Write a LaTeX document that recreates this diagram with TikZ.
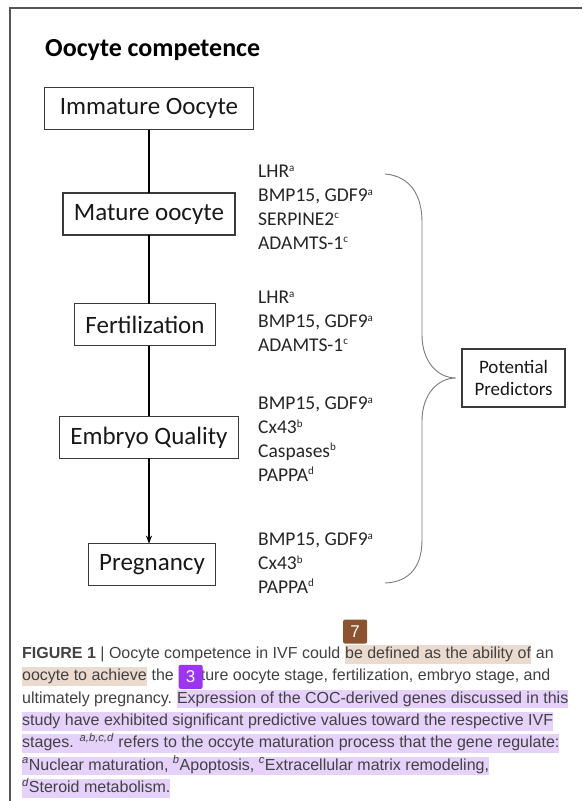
\documentclass[tikz,border=0pt]{standalone}
\usepackage{fontspec}
\setmainfont{Carlito}
\newfontfamily\capfont{Liberation Sans}
\usetikzlibrary{arrows.meta,positioning}
\definecolor{framegray}{HTML}{555555}
\definecolor{boxgray}{HTML}{3A3A3A}
\definecolor{bracegray}{HTML}{7A7A7A}
\definecolor{capgray}{HTML}{424242}
\definecolor{tanmark}{HTML}{EBDACE}
\definecolor{lilacmark}{HTML}{E6D1FA}
\definecolor{badgebrown}{HTML}{8C5331}
\definecolor{badgepurple}{HTML}{9C34F2}
\newcommand{\gsup}[1]{\raisebox{6.5pt}{\fontsize{11}{11}\selectfont #1}}
\tikzset{
  stage/.style={draw=boxgray, line width=1.2pt, minimum height=42pt, inner xsep=11pt, outer sep=0pt, font=\fontsize{25}{30}\selectfont, text=black!90},
  genes/.style={anchor=north west, inner sep=0pt, align=left, font=\fontsize{19.5}{23.8}\selectfont, text=black!85},
  link/.style={line width=1.5pt},
  brace/.style={draw=bracegray, line width=0.9pt},
  captxt/.style={anchor=base west, inner xsep=0pt, inner ysep=0.5pt, text height=13pt, text depth=4.5pt, text=capgray, font=\capfont\fontsize{16}{20}\selectfont},
  badge/.style={inner sep=0pt, minimum size=24pt, rounded corners=2pt, text=white, font=\capfont\fontsize{17}{20}\selectfont},
  >={Stealth[length=8pt,width=6pt]}
}
\begin{document}
\begin{tikzpicture}[x=1pt,y=-1pt]
\useasboundingbox (0,0) rectangle (582,801);
\fill[white] (0,0) rectangle (582,801);
\draw[framegray, line width=1.6pt] (582,8) -- (10,8) -- (10,801);

\node[anchor=base west, inner sep=0pt, font=\bfseries\fontsize{26}{31}\selectfont] (title) at (45,56) {Oocyte competence};

% IVF stages
\matrix[ampersand replacement=\&, row sep=62pt, anchor=north, inner sep=0pt] (steps) at (149,87) {
\node[stage, inner xsep=15pt] (imm) {Immature Oocyte}; \\
\node[stage] (mat) {Mature oocyte}; \\[5.5pt]
\node[stage, xshift=-4pt] (fert) {Fertilization}; \\[7.5pt]
\node[stage] (emb) {Embryo Quality}; \\[22pt]
\node[stage, xshift=3pt] (preg) {Pregnancy}; \\
};
\draw[link] (imm) -- (mat);
\draw[link] (mat) -- (mat |- fert.north);
\draw[link] (emb |- fert.south) -- (emb);
\draw[link,->] (emb) -- (emb |- preg.north);

% genes per stage
\node[genes] (g1) at (258,165) {LHR\gsup{a}\\BMP15, GDF9\gsup{a}\\SERPINE2\gsup{c}\\ADAMTS-1\gsup{c}};
\node[genes] (g2) at (258,291) {LHR\gsup{a}\\BMP15, GDF9\gsup{a}\\ADAMTS-1\gsup{c}};
\node[genes] (g3) at (258,397) {BMP15, GDF9\gsup{a}\\Cx43\gsup{b}\\Caspases\gsup{b}\\PAPPA\gsup{d}};
\node[genes] (g4) at (258,533) {BMP15, GDF9\gsup{a}\\Cx43\gsup{b}\\PAPPA\gsup{d}};

\node[stage, font=\fontsize{19}{22}\selectfont, align=center, minimum width=103pt, minimum height=58pt, inner xsep=8pt] (pred) at (513.5,378) {Potential\\Predictors};
\coordinate (brtop) at (385,174);
\coordinate (brbot) at (385,583);
\coordinate (brtip) at ([xshift=-6pt]pred.west);
\draw[brace] (brtop) .. controls (410,176) and (422,195) .. (422,222) -- (422,335)
  .. controls (422,362) and (438,378) .. (brtip)
  .. controls (438,378) and (422,394) .. (422,421) -- (422,540)
  .. controls (422,566) and (410,582) .. (brbot);

% caption
\node[captxt] (cap1) at (22,658.5) {\textbf{FIGURE 1} | Oocyte competence in IVF could\ \mbox{}};
\node[captxt, fill=tanmark] (cap1h) at (cap1.base east) {be defined as the ability of};
\node[captxt] (cap1e) at (cap1h.base east) {\ an};
\node[captxt, fill=tanmark] (cap2h) at ([yshift=-22.35pt]cap1.base west) {oocyte to achieve};
\node[captxt] (cap2) at (cap2h.base east) {\ the\ \mbox{}};
\node[captxt] (cap2e) at (cap2.base east) {mature oocyte stage, fertilization, embryo stage, and};
\node[captxt] (cap3) at ([yshift=-22.35pt]cap2h.base west) {ultimately pregnancy.\ \mbox{}};
\node[captxt, fill=lilacmark] (cap3h) at (cap3.base east) {Expression of the COC-derived genes discussed in this};
\node[captxt, fill=lilacmark] (cap4) at ([yshift=-22.35pt]cap3.base west) {study have exhibited significant predictive values toward the respective IVF};
\node[captxt, fill=lilacmark] (cap5) at ([yshift=-22.35pt]cap4.base west) {stages. \textsuperscript{\itshape a,b,c,d} refers to the occyte maturation process that the gene regulate:};
\node[captxt, fill=lilacmark] (cap6) at ([yshift=-22.35pt]cap5.base west) {\textsuperscript{\itshape a}Nuclear maturation, \textsuperscript{\itshape b}Apoptosis, \textsuperscript{\itshape c}Extracellular matrix remodeling,};
\node[captxt, fill=lilacmark] (cap7) at ([yshift=-22.35pt]cap6.base west) {\textsuperscript{\itshape d}Steroid metabolism.};
\node[badge, fill=badgebrown, anchor=south west] (b7) at ([xshift=-2pt,yshift=1pt]cap1h.north west) {7};
\node[badge, fill=badgepurple, anchor=west] (b3) at ([yshift=4pt]cap2e.base west) {3};
\end{tikzpicture}
\end{document}
